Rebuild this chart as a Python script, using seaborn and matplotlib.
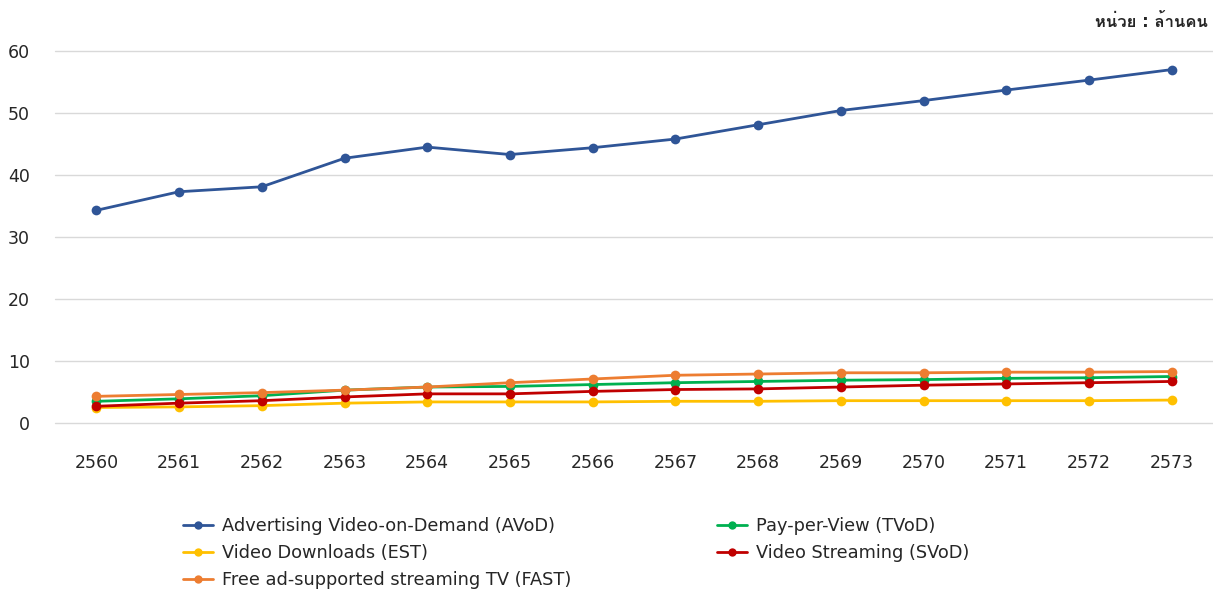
import numpy as np
import pandas as pd
import matplotlib
matplotlib.use('Agg')
import matplotlib.pyplot as plt
from matplotlib import font_manager
from matplotlib.ft2font import FT2Font
from matplotlib.lines import Line2D
import seaborn as sns

# Data (million people), Thai Buddhist years
years = [2560, 2561, 2562, 2563, 2564, 2565, 2566, 2567, 2568, 2569, 2570, 2571, 2572, 2573]
avod = [34.3, 37.3, 38.1, 42.7, 44.5, 43.3, 44.4, 45.8, 48.1, 50.4, 52.0, 53.7, 55.3, 57.0]
tvod = [3.5, 3.9, 4.4, 5.3, 5.8, 5.9, 6.2, 6.5, 6.7, 6.9, 7.0, 7.2, 7.3, 7.5]
est = [2.5, 2.6, 2.8, 3.2, 3.4, 3.4, 3.4, 3.5, 3.5, 3.6, 3.6, 3.6, 3.6, 3.7]
svod = [2.7, 3.2, 3.6, 4.2, 4.7, 4.7, 5.1, 5.4, 5.5, 5.8, 6.1, 6.3, 6.5, 6.7]
fast = [4.3, 4.6, 4.9, 5.3, 5.8, 6.5, 7.1, 7.7, 7.9, 8.1, 8.1, 8.2, 8.2, 8.3]

series_names = ['Advertising Video-on-Demand (AVoD)', 'Pay-per-View (TVoD)',
                'Video Downloads (EST)', 'Video Streaming (SVoD)',
                'Free ad-supported streaming TV (FAST)']
series_values = [avod, tvod, est, svod, fast]
colors = ['#2F5597', '#00B050', '#FFC000', '#C00000', '#ED7D31']
unit_label = 'หน่วย : ล้านคน'

df = pd.concat([pd.DataFrame({'year': years, 'value': v, 'series': n})
                for n, v in zip(series_names, series_values)], ignore_index=True)

sns.set_style('white')

# find a font that has Thai glyphs for the unit label
thai_font = None
for f in font_manager.fontManager.ttflist:
    try:
        if ord('ห') in FT2Font(f.fname).get_charmap():
            thai_font = f.name
            break
    except Exception:
        pass
families = ['DejaVu Sans'] + ([thai_font] if thai_font else [])
plt.rcParams['font.family'] = families

fig = plt.figure(figsize=(12.13, 5.92), dpi=100)
ax = fig.add_axes([55 / 1213, 1 - 423 / 592, 1 - 55 / 1213, (423 - 51) / 592])

sns.lineplot(data=df, x='year', y='value', hue='series', hue_order=series_names,
             palette=colors, marker='o', markersize=7, markeredgewidth=0,
             linewidth=2, legend=False, ax=ax, clip_on=False)

ax.set_xlim(years[0] - 0.5, years[-1] + 0.5)
ax.set_ylim(0, 60)
ax.set_yticks(range(0, 61, 10))
ax.set_xticks(years)
ax.set_xticklabels([str(y) for y in years])
ax.set_xlabel('')
ax.set_ylabel('')
ax.grid(axis='y', color='#D9D9D9', linewidth=1)
for g in ax.get_ygridlines():
    g.set_clip_on(False)
ax.set_axisbelow(True)
for s in ax.spines.values():
    s.set_visible(False)
ax.tick_params(axis='x', length=0, pad=22, labelsize=12.5, labelcolor='#262626')
ax.tick_params(axis='y', length=0, pad=18, labelsize=12.5, labelcolor='#262626')

# legend: column 1 = AVoD, EST, FAST ; column 2 = TVoD, SVoD
order = [0, 2, 4, 1, 3]
handles = [Line2D([0], [0], color=colors[i], marker='o', markersize=6,
                  markeredgewidth=0, linewidth=2) for i in order]
labels = [series_names[i] for i in order]
fig.legend(handles, labels, ncol=2, loc='upper left', bbox_to_anchor=(183 / 1213, 1 - 517 / 592),
           frameon=False, fontsize=12.8, handlelength=1.7, handletextpad=0.5,
           labelspacing=0.5, columnspacing=8.2, borderaxespad=0, borderpad=0)

fig.text(1208 / 1213, 1 - 22 / 592, unit_label, ha='right', va='center',
         fontsize=12, fontweight='bold', color='#262626')

fig.savefig('out.png', dpi=100)
